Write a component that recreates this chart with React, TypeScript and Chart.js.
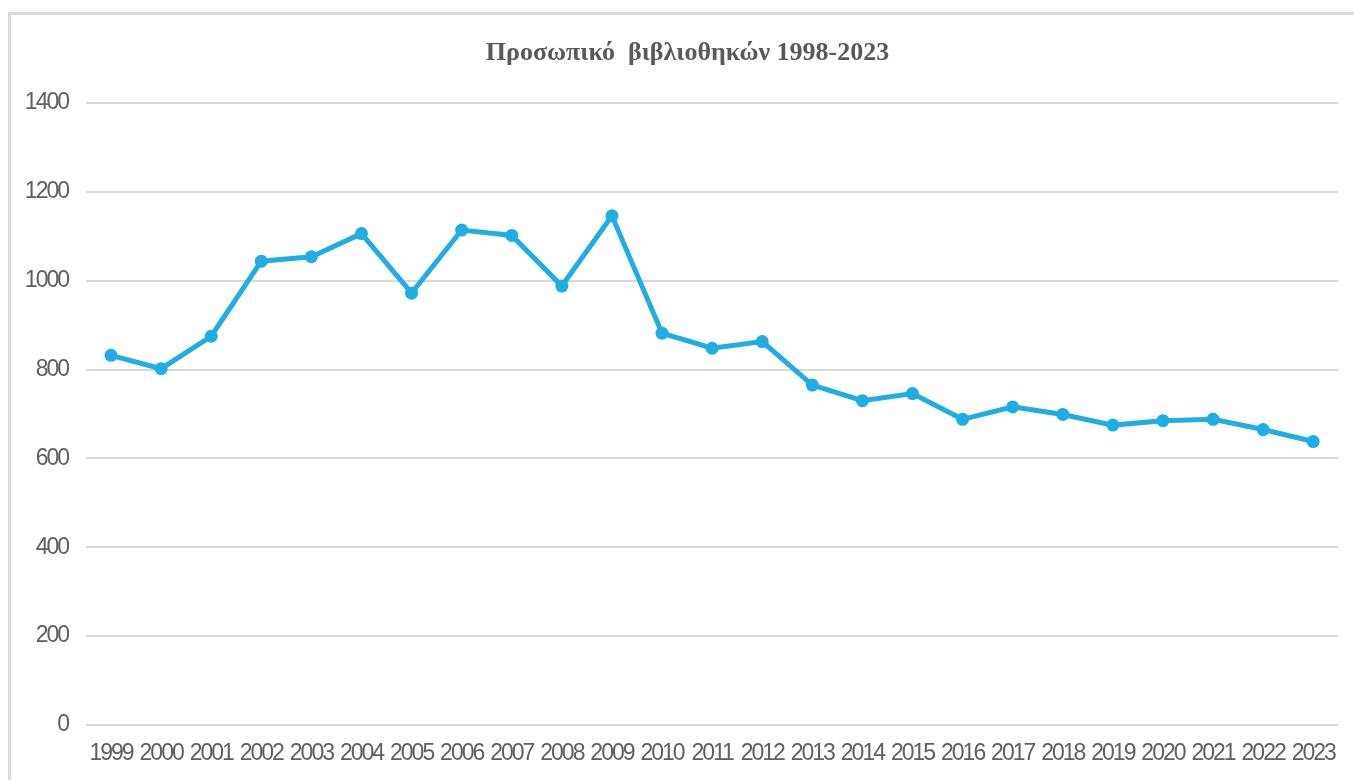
import React, { useEffect, useRef } from "react";
import { Chart, registerables } from "chart.js";

Chart.register(...registerables);

const TITLE = "Προσωπικό  βιβλιοθηκών 1998-2023";
const years = ["1999","2000","2001","2002","2003","2004","2005","2006","2007","2008","2009","2010","2011","2012","2013","2014","2015","2016","2017","2018","2019","2020","2021","2022","2023"];
const staff = [832, 802, 875, 1044, 1054, 1106, 972, 1114, 1102, 988, 1146, 882, 848, 863, 765, 730, 746, 688, 716, 699, 675, 685, 688, 665, 638];
const yMin = 0;
const yMax = 1400;
const yStep = 200;

const titlePlugin = {
  id: "customTitle",
  beforeDraw(chart: any) {
    (chart.ctx as any).letterSpacing = "-2px";
  },
  afterDraw(chart: any) {
    const ctx = chart.ctx;
    ctx.save();
    (ctx as any).letterSpacing = "0px";
    ctx.font = "bold 26px 'Liberation Serif', 'DejaVu Serif', serif";
    ctx.fillStyle = "#595959";
    ctx.textAlign = "center";
    ctx.textBaseline = "middle";
    ctx.fillText(TITLE, (chart.width + 21) / 2, 53);
    ctx.restore();
  },
};

export default function App() {
  const ref = useRef<HTMLCanvasElement | null>(null);
  useEffect(() => {
    if (!ref.current) return;
    const tickFont = { family: "'Liberation Sans', 'Arimo', sans-serif", size: 23, weight: "normal" as const };
    const chart = new Chart(ref.current, {
      type: "line",
      data: {
        labels: years,
        datasets: [
          {
            label: "Προσωπικό",
            data: staff,
            borderColor: "#1fade4",
            backgroundColor: "#1fade4",
            borderWidth: 5,
            pointRadius: 6.5,
            pointHoverRadius: 6.5,
            pointBorderWidth: 0,
            tension: 0,
          },
        ],
      },
      plugins: [titlePlugin],
      options: {
        responsive: false,
        animation: false,
        layout: { padding: { left: 20, right: 10, top: 103, bottom: 0 } },
        plugins: {
          legend: { display: false },
          tooltip: { enabled: false },
          title: { display: false },
        },
        scales: {
          x: {
            offset: true,
            grid: { display: false, drawTicks: false },
            border: { display: false },
            ticks: { color: "#5f5f5f", font: tickFont, padding: 15, maxRotation: 0, autoSkip: false },
            afterFit: (scale: any) => {
              scale.height = 55;
            },
          },
          y: {
            min: yMin,
            max: yMax,
            grid: { color: "#d9d9d9", lineWidth: 2, drawTicks: false },
            border: { display: false },
            ticks: {
              stepSize: yStep,
              color: "#5f5f5f",
              font: tickFont,
              padding: 18,
              callback: (v: any) => String(v),
            },
            afterFit: (scale: any) => {
              scale.width = 66;
            },
          },
        },
      },
    });
    return () => chart.destroy();
  }, []);
  return (
    <div style={{ position: "fixed", left: 0, top: 0, width: 1354, height: 780, overflow: "hidden", background: "#fff" }}>
      <div
        style={{
          position: "absolute",
          left: 8,
          top: 12,
          width: 1400,
          height: 900,
          borderTop: "3px solid #d9d9d9",
          borderLeft: "3px solid #d9d9d9",
          boxSizing: "border-box",
        }}
      />
      <canvas ref={ref} width={1354} height={780} style={{ position: "absolute", left: 0, top: 0 }} />
    </div>
  );
}
